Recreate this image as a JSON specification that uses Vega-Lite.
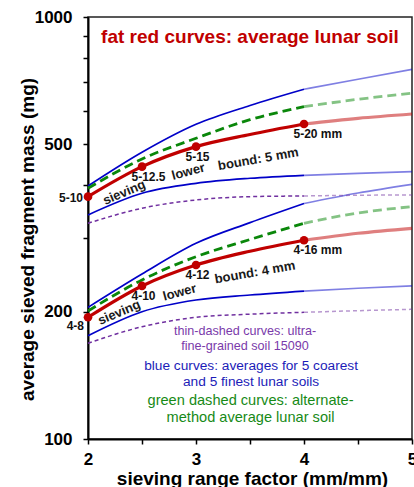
{
  "$schema": "https://vega.github.io/schema/vega-lite/v6.json",
  "width": 324,
  "height": 422,
  "autosize": {"type": "none"},
  "padding": {"left": 88, "top": 17, "right": 2, "bottom": 48},
  "background": "white",
  "config": {"view": {"stroke": "#222", "strokeWidth": 1.5}, "font": "Liberation Sans"},
  "datasets": {
    "curves": [
      {"id": "b5t", "type": "blue", "seg": "main", "x": 2, "y": 397.7},
      {"id": "b5t", "type": "blue", "seg": "main", "x": 2.5, "y": 478},
      {"id": "b5t", "type": "blue", "seg": "main", "x": 3, "y": 556.8},
      {"id": "b5t", "type": "blue", "seg": "main", "x": 3.5, "y": 617},
      {"id": "b5t", "type": "blue", "seg": "main", "x": 4, "y": 674.1},
      {"id": "b5t", "type": "blue", "seg": "ext", "x": 4, "y": 674.1},
      {"id": "b5t", "type": "blue", "seg": "ext", "x": 4.5, "y": 711.9},
      {"id": "b5t", "type": "blue", "seg": "ext", "x": 5, "y": 751.7},
      {"id": "b5b", "type": "blue", "seg": "main", "x": 2, "y": 339.6},
      {"id": "b5b", "type": "blue", "seg": "main", "x": 2.5, "y": 382.2},
      {"id": "b5b", "type": "blue", "seg": "main", "x": 3, "y": 403.6},
      {"id": "b5b", "type": "blue", "seg": "main", "x": 3.5, "y": 414.8},
      {"id": "b5b", "type": "blue", "seg": "main", "x": 4, "y": 421.6},
      {"id": "b5b", "type": "blue", "seg": "ext", "x": 4, "y": 421.6},
      {"id": "b5b", "type": "blue", "seg": "ext", "x": 4.5, "y": 426.2},
      {"id": "b5b", "type": "blue", "seg": "ext", "x": 5, "y": 430},
      {"id": "b4t", "type": "blue", "seg": "main", "x": 2, "y": 205.1},
      {"id": "b4t", "type": "blue", "seg": "main", "x": 2.5, "y": 246},
      {"id": "b4t", "type": "blue", "seg": "main", "x": 3, "y": 290.9},
      {"id": "b4t", "type": "blue", "seg": "main", "x": 3.5, "y": 325.6},
      {"id": "b4t", "type": "blue", "seg": "main", "x": 4, "y": 361.4},
      {"id": "b4t", "type": "blue", "seg": "ext", "x": 4, "y": 361.4},
      {"id": "b4t", "type": "blue", "seg": "ext", "x": 4.5, "y": 382.8},
      {"id": "b4t", "type": "blue", "seg": "ext", "x": 5, "y": 401.4},
      {"id": "b4b", "type": "blue", "seg": "main", "x": 2, "y": 175.7},
      {"id": "b4b", "type": "blue", "seg": "main", "x": 2.5, "y": 200.3},
      {"id": "b4b", "type": "blue", "seg": "main", "x": 3, "y": 213.5},
      {"id": "b4b", "type": "blue", "seg": "main", "x": 3.5, "y": 219.4},
      {"id": "b4b", "type": "blue", "seg": "main", "x": 4, "y": 224.2},
      {"id": "b4b", "type": "blue", "seg": "ext", "x": 4, "y": 224.2},
      {"id": "b4b", "type": "blue", "seg": "ext", "x": 4.5, "y": 227.6},
      {"id": "b4b", "type": "blue", "seg": "ext", "x": 5, "y": 230.5},
      {"id": "p5", "type": "purple", "seg": "main", "x": 2, "y": 324.5},
      {"id": "p5", "type": "purple", "seg": "main", "x": 2.5, "y": 352.2},
      {"id": "p5", "type": "purple", "seg": "main", "x": 3, "y": 368.5},
      {"id": "p5", "type": "purple", "seg": "main", "x": 3.5, "y": 375.2},
      {"id": "p5", "type": "purple", "seg": "main", "x": 4, "y": 376.6},
      {"id": "p5", "type": "purple", "seg": "ext", "x": 4, "y": 376.6},
      {"id": "p5", "type": "purple", "seg": "ext", "x": 4.5, "y": 378.1},
      {"id": "p5", "type": "purple", "seg": "ext", "x": 5, "y": 378.7},
      {"id": "p4", "type": "purple", "seg": "main", "x": 2, "y": 168.6},
      {"id": "p4", "type": "purple", "seg": "main", "x": 2.5, "y": 184.5},
      {"id": "p4", "type": "purple", "seg": "main", "x": 3, "y": 194.3},
      {"id": "p4", "type": "purple", "seg": "main", "x": 3.5, "y": 197.6},
      {"id": "p4", "type": "purple", "seg": "main", "x": 4, "y": 199.6},
      {"id": "p4", "type": "purple", "seg": "ext", "x": 4, "y": 199.6},
      {"id": "p4", "type": "purple", "seg": "ext", "x": 4.5, "y": 201.4},
      {"id": "p4", "type": "purple", "seg": "ext", "x": 5, "y": 202.9},
      {"id": "g5", "type": "green", "seg": "main", "x": 2, "y": 392.7},
      {"id": "g5", "type": "green", "seg": "main", "x": 2.5, "y": 460.8},
      {"id": "g5", "type": "green", "seg": "main", "x": 3, "y": 515.9},
      {"id": "g5", "type": "green", "seg": "main", "x": 3.5, "y": 571},
      {"id": "g5", "type": "green", "seg": "main", "x": 4, "y": 613},
      {"id": "g5", "type": "green", "seg": "ext", "x": 4, "y": 613},
      {"id": "g5", "type": "green", "seg": "ext", "x": 4.5, "y": 638.3},
      {"id": "g5", "type": "green", "seg": "ext", "x": 5, "y": 659.5},
      {"id": "g4", "type": "green", "seg": "main", "x": 2, "y": 201.1},
      {"id": "g4", "type": "green", "seg": "main", "x": 2.5, "y": 238.2},
      {"id": "g4", "type": "green", "seg": "main", "x": 3, "y": 270.4},
      {"id": "g4", "type": "green", "seg": "main", "x": 3.5, "y": 297},
      {"id": "g4", "type": "green", "seg": "main", "x": 4, "y": 324.5},
      {"id": "g4", "type": "green", "seg": "ext", "x": 4, "y": 324.5},
      {"id": "g4", "type": "green", "seg": "ext", "x": 4.5, "y": 343.3},
      {"id": "g4", "type": "green", "seg": "ext", "x": 5, "y": 355.3},
      {"id": "r5", "type": "red", "seg": "main", "x": 2, "y": 375.2, "label": "5-10"},
      {"id": "r5", "type": "red", "seg": "main", "x": 2.5, "y": 441.9, "label": "5-12.5"},
      {"id": "r5", "type": "red", "seg": "main", "x": 3, "y": 492.9, "label": "5-15"},
      {"id": "r5", "type": "red", "seg": "main", "x": 3.5, "y": 526.7},
      {"id": "r5", "type": "red", "seg": "main", "x": 4, "y": 557.7, "label": "5-20 mm"},
      {"id": "r5", "type": "red", "seg": "ext", "x": 4, "y": 557.7},
      {"id": "r5", "type": "red", "seg": "ext", "x": 4.5, "y": 575.4},
      {"id": "r5", "type": "red", "seg": "ext", "x": 5, "y": 589},
      {"id": "r4", "type": "red", "seg": "main", "x": 2, "y": 194.3, "label": "4-8"},
      {"id": "r4", "type": "red", "seg": "main", "x": 2.5, "y": 230.5, "label": "4-10"},
      {"id": "r4", "type": "red", "seg": "main", "x": 3, "y": 258.4, "label": "4-12"},
      {"id": "r4", "type": "red", "seg": "main", "x": 3.5, "y": 278.6},
      {"id": "r4", "type": "red", "seg": "main", "x": 4, "y": 295.8, "label": "4-16 mm"},
      {"id": "r4", "type": "red", "seg": "ext", "x": 4, "y": 295.8},
      {"id": "r4", "type": "red", "seg": "ext", "x": 4.5, "y": 307.3},
      {"id": "r4", "type": "red", "seg": "ext", "x": 5, "y": 315.7}
    ],
    "curveText": [
      {"text": "sieving", "x": 2.335, "y": 383.8},
      {"text": "lower", "x": 2.929, "y": 430},
      {"text": "bound: 5 mm", "x": 3.577, "y": 460.3},
      {"text": "sieving", "x": 2.289, "y": 199.4},
      {"text": "lower", "x": 2.849, "y": 222.5},
      {"text": "bound: 4 mm", "x": 3.546, "y": 248.1}
    ],
    "notes": [
      {"kind": "title", "text": "fat red curves: average lunar soil", "x": 3.5, "y": 897},
      {"kind": "purple", "text": "thin-dashed curves: ultra-", "x": 3.454, "y": 180.5},
      {"kind": "purple", "text": "fine-grained soil 15090", "x": 3.454, "y": 166.1},
      {"kind": "blue", "text": "blue curves: averages for 5 coarest", "x": 3.51, "y": 149.2},
      {"kind": "blue", "text": "and 5 finest lunar soils", "x": 3.51, "y": 136.7},
      {"kind": "green", "text": "green dashed curves: alternate-", "x": 3.505, "y": 123},
      {"kind": "green", "text": "method average lunar soil", "x": 3.505, "y": 112}
    ]
  },
  "encoding": {
    "x": {
      "field": "x", "type": "quantitative",
      "scale": {"domain": [2, 5], "nice": false, "zero": false},
      "axis": {
        "title": "sieving range factor (mm/mm)",
        "values": [2, 2.5, 3, 3.5, 4, 4.5, 5],
        "labelExpr": "datum.value % 1 === 0 ? format(datum.value, 'd') : ''",
        "labelFlush": false, "labelOverlap": false, "grid": false,
        "domainColor": "#000", "domainWidth": 2,
        "tickColor": "#000", "tickWidth": 1.5, "tickSize": 5,
        "labelFont": "Liberation Sans", "labelFontSize": 17, "labelFontWeight": "bold", "labelColor": "#000", "labelPadding": 7,
        "titleFont": "Liberation Sans", "titleFontSize": 19, "titleFontWeight": "bold", "titleColor": "#000",
        "titleX": 164, "titleY": 39, "titleBaseline": "middle", "titleAlign": "center"
      }
    },
    "y": {
      "field": "y", "type": "quantitative",
      "scale": {"type": "log", "domain": [100, 1000], "nice": false},
      "axis": {
        "title": "average sieved fragment mass (mg)",
        "values": [100, 200, 300, 400, 500, 600, 700, 800, 900, 1000],
        "labelExpr": "(datum.value === 100 || datum.value === 200 || datum.value === 500 || datum.value === 1000) ? format(datum.value, 'd') : ''",
        "labelOverlap": false, "grid": false,
        "domainColor": "#000", "domainWidth": 2,
        "tickColor": "#000", "tickWidth": 1.5, "tickSize": 5,
        "labelFont": "Liberation Sans", "labelFontSize": 17, "labelFontWeight": "bold", "labelColor": "#000", "labelPadding": 11,
        "titleFont": "Liberation Sans", "titleFontSize": 19, "titleFontWeight": "bold", "titleColor": "#000",
        "titleX": -61, "titleY": 222, "titleAngle": -90, "titleBaseline": "middle", "titleAlign": "center"
      }
    }
  },
  "layer": [
    {
      "data": {"name": "curves"},
      "transform": [{"filter": "datum.type === 'blue'"}],
      "mark": {"type": "line", "color": "#0000c8", "strokeWidth": 1.7, "interpolate": "monotone"},
      "encoding": {
        "detail": [{"field": "id"}, {"field": "seg"}],
        "opacity": {"condition": {"test": "datum.seg === 'ext'", "value": 0.5}, "value": 1}
      }
    },
    {
      "data": {"name": "curves"},
      "transform": [{"filter": "datum.type === 'purple'"}],
      "mark": {"type": "line", "color": "#7030a0", "strokeWidth": 1.5, "strokeDash": [4, 3], "interpolate": "monotone"},
      "encoding": {
        "detail": [{"field": "id"}, {"field": "seg"}],
        "opacity": {"condition": {"test": "datum.seg === 'ext'", "value": 0.5}, "value": 1}
      }
    },
    {
      "data": {"name": "curves"},
      "transform": [{"filter": "datum.type === 'green'"}],
      "mark": {"type": "line", "color": "#0a870a", "strokeWidth": 2.8, "strokeDash": [9, 5], "interpolate": "monotone"},
      "encoding": {
        "detail": [{"field": "id"}, {"field": "seg"}],
        "opacity": {"condition": {"test": "datum.seg === 'ext'", "value": 0.5}, "value": 1}
      }
    },
    {
      "data": {"name": "curves"},
      "transform": [{"filter": "datum.type === 'red'"}],
      "mark": {"type": "line", "color": "#c00000", "strokeWidth": 3.2, "interpolate": "monotone"},
      "encoding": {
        "detail": [{"field": "id"}, {"field": "seg"}],
        "opacity": {"condition": {"test": "datum.seg === 'ext'", "value": 0.5}, "value": 1}
      }
    },
    {
      "data": {"name": "curves"},
      "transform": [{"filter": "datum.type === 'red' && datum.seg === 'main' && datum.x !== 3.5"}],
      "mark": {"type": "point", "filled": true, "color": "#c00000", "size": 75, "opacity": 1}
    },
    {
      "data": {"name": "curves"},
      "transform": [{"filter": "datum.label && datum.x > 2"}],
      "mark": {"type": "text", "align": "left", "baseline": "middle", "dx": -10.5, "dy": 10, "font": "Liberation Sans", "fontSize": 12, "fontWeight": "bold", "color": "#111"},
      "encoding": {"text": {"field": "label"}}
    },
    {
      "data": {"name": "curves"},
      "transform": [{"filter": "datum.label === '5-10'"}],
      "mark": {"type": "text", "align": "right", "baseline": "middle", "dx": -5, "dy": 1, "font": "Liberation Sans", "fontSize": 12, "fontWeight": "bold", "color": "#111"},
      "encoding": {"text": {"field": "label"}}
    },
    {
      "data": {"name": "curves"},
      "transform": [{"filter": "datum.label === '4-8'"}],
      "mark": {"type": "text", "align": "right", "baseline": "middle", "dx": -4, "dy": 8.5, "font": "Liberation Sans", "fontSize": 12, "fontWeight": "bold", "color": "#111"},
      "encoding": {"text": {"field": "label"}}
    },
    {
      "data": {"name": "curveText"},
      "transform": [{"filter": "datum.text === 'sieving'"}],
      "mark": {"type": "text", "align": "center", "baseline": "middle", "angle": -23, "font": "Liberation Sans", "fontSize": 13, "fontWeight": "bold", "color": "#1a1a1a"},
      "encoding": {"text": {"field": "text"}}
    },
    {
      "data": {"name": "curveText"},
      "transform": [{"filter": "datum.text === 'lower'"}],
      "mark": {"type": "text", "align": "center", "baseline": "middle", "angle": -15, "font": "Liberation Sans", "fontSize": 13, "fontWeight": "bold", "color": "#1a1a1a"},
      "encoding": {"text": {"field": "text"}}
    },
    {
      "data": {"name": "curveText"},
      "transform": [{"filter": "indexof(datum.text, 'bound') === 0"}],
      "mark": {"type": "text", "align": "center", "baseline": "middle", "angle": -10, "font": "Liberation Sans", "fontSize": 13, "fontWeight": "bold", "color": "#1a1a1a"},
      "encoding": {"text": {"field": "text"}}
    },
    {
      "data": {"name": "notes"},
      "transform": [{"filter": "datum.kind === 'title'"}],
      "mark": {"type": "text", "align": "center", "baseline": "middle", "font": "Liberation Sans", "fontSize": 19, "fontWeight": "bold", "color": "#c00000"},
      "encoding": {"text": {"field": "text"}}
    },
    {
      "data": {"name": "notes"},
      "transform": [{"filter": "datum.kind === 'purple'"}],
      "mark": {"type": "text", "align": "center", "baseline": "middle", "font": "Liberation Sans", "fontSize": 12.6, "color": "#7a3aaa"},
      "encoding": {"text": {"field": "text"}}
    },
    {
      "data": {"name": "notes"},
      "transform": [{"filter": "datum.kind === 'blue'"}],
      "mark": {"type": "text", "align": "center", "baseline": "middle", "font": "Liberation Sans", "fontSize": 13.7, "color": "#1c1cb8"},
      "encoding": {"text": {"field": "text"}}
    },
    {
      "data": {"name": "notes"},
      "transform": [{"filter": "datum.kind === 'green'"}],
      "mark": {"type": "text", "align": "center", "baseline": "middle", "font": "Liberation Sans", "fontSize": 14.6, "color": "#178a17"},
      "encoding": {"text": {"field": "text"}}
    }
  ]
}
